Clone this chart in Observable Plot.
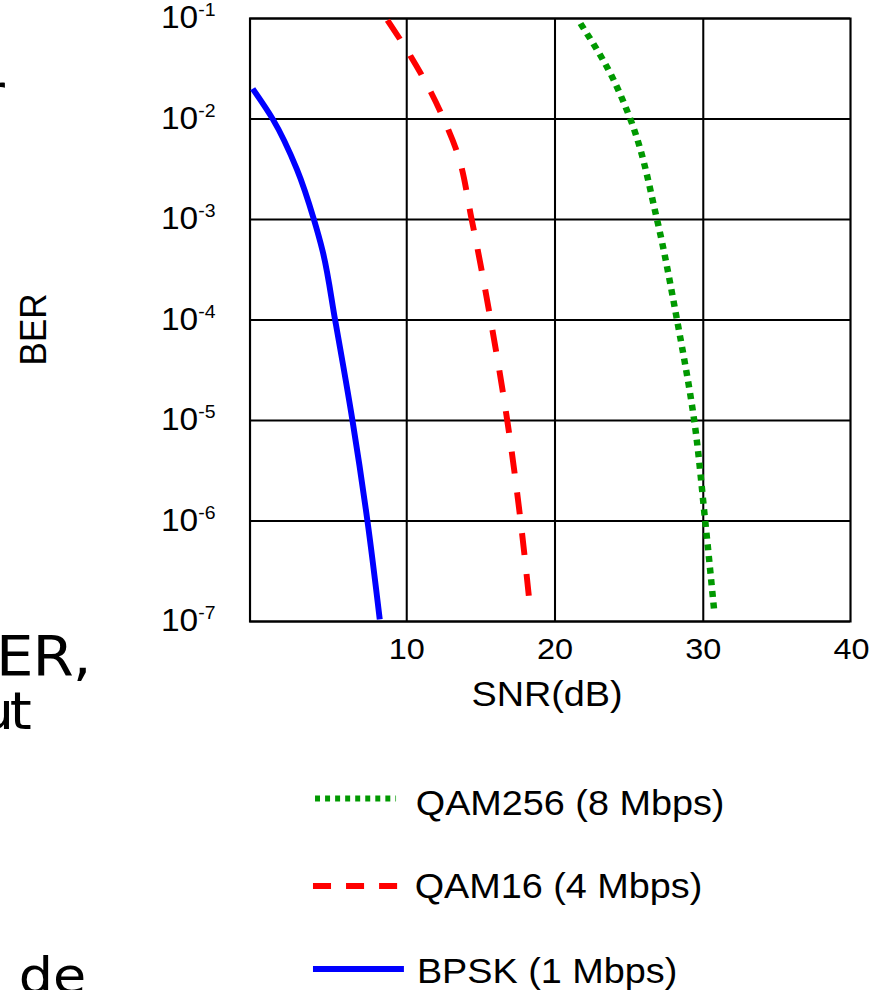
<!DOCTYPE html>
<html><head><meta charset="utf-8">
<script src="https://cdn.jsdelivr.net/npm/d3@7"></script>
<script src="https://cdn.jsdelivr.net/npm/@observablehq/plot@0.6"></script>
<style>
html,body{margin:0;padding:0;background:#fff;overflow:hidden;}
#wrap{position:relative;width:816px;height:990px;transform:scaleX(1.08);transform-origin:0 0;}
#wrap svg{display:block;}
#overlay{position:absolute;left:0;top:0;pointer-events:none;}
</style></head><body><div id="wrap"></div>
<script>
// ---- data ----
const xTicks = [10, 20, 30, 40];
const yTicks = [1e-1, 1e-2, 1e-3, 1e-4, 1e-5, 1e-6, 1e-7];

const bpskSNR = [-0.39, 0.96, 2.59, 3.74, 4.32, 5.17, 6.34, 7.35, 8.18];
const bpskBER = [0.020, 1e-2, 3.16e-3, 1e-3, 4.9e-4, 1e-4, 1e-5, 1e-6, 1.05e-7];

const qam16SNR = [8.70, 10.27, 11.62, 12.49, 13.37, 14.38, 15.66, 16.78, 17.68, 18.30];
const qam16BER = [0.096, 0.042, 0.0186, 1e-2, 4.8e-3, 1e-3, 1e-4, 1e-5, 1e-6, 1.45e-7];

const qam256SNR = [21.72, 23.6, 25.08, 26.88, 28.23, 29.39, 30.13, 30.74];
const qam256BER = [0.089, 0.031, 1e-2, 1e-3, 1e-4, 1e-5, 1e-6, 1.26e-7];

const legendLabels = ["QAM256 (8 Mbps)", "QAM16 (4 Mbps)", "BPSK (1 Mbps)"];
const xLabel = "SNR(dB)";
const yLabel = "BER";
const fragments = ["r", "ER,", "ut", "de"];

// ---- chart ----
const rows = (s, b) => s.map((v, i) => ({snr: v, ber: b[i]}));
const FONT = '"Liberation Sans", Arial, sans-serif';

const chart = Plot.plot({
  width: 816, height: 730,
  marginTop: 18, marginBottom: 109, marginLeft: 231, marginRight: 29,
  style: {fontFamily: FONT, background: "transparent", color: "#000"},
  x: {domain: [-0.57, 39.93]},
  y: {type: "log", domain: [1e-7, 1e-1]},
  marks: [
    Plot.ruleY(yTicks, {stroke: "#000", strokeWidth: 2}),
    Plot.ruleX(xTicks.filter(d => d < 40), {stroke: "#000", strokeWidth: 1.9}),
    Plot.frame({stroke: "#000", strokeWidth: 2}),
    Plot.axisY(yTicks, {tickSize: 0, tickPadding: 32, fontSize: 31, label: null,
      tickFormat: d => String(Math.round(Math.log10(d)))}),
    Plot.axisX(xTicks, {tickSize: 0, tickPadding: 16, fontSize: 30, label: null}),
    Plot.text([xLabel], {text: d => d, frameAnchor: "bottom", lineAnchor: "middle", textAnchor: "middle",
      dy: 73, dx: -3, fontSize: 35, fill: "#000"}),
    Plot.text([yLabel], {text: d => d, frameAnchor: "left", textAnchor: "middle", lineAnchor: "middle",
      rotate: -90, dx: -200, dy: 9.5, fontSize: 35, fill: "#000"}),
    Plot.line(rows(qam256SNR, qam256BER), {x: "snr", y: "ber", stroke: "#009900", strokeWidth: 6,
      strokeDasharray: "6,5.7", strokeLinecap: "butt", curve: "monotone-y"}),
    Plot.line(rows(qam16SNR, qam16BER), {x: "snr", y: "ber", stroke: "#ff0000", strokeWidth: 5.5,
      strokeDasharray: "22,19", strokeLinecap: "butt", curve: "monotone-y"}),
    Plot.line(rows(bpskSNR, bpskBER), {x: "snr", y: "ber", stroke: "#0000ff", strokeWidth: 5.5,
      strokeLinecap: "butt", curve: "monotone-y"})
  ]
});

// superscript exponents on y tick labels
chart.querySelectorAll('g[aria-label="y-axis tick label"] text').forEach(t => {
  const e = t.textContent;
  t.textContent = "";
  const NS = "http://www.w3.org/2000/svg";
  const a = document.createElementNS(NS, "tspan"); a.textContent = "10";
  const b = document.createElementNS(NS, "tspan"); b.textContent = e;
  b.setAttribute("font-size", "18"); b.setAttribute("dy", "-12");
  t.appendChild(a); t.appendChild(b);
});

const wrap = document.getElementById("wrap");
wrap.appendChild(chart);

// ---- legend (below the chart svg) ----
const legend = d3.create("svg").attr("width", 816).attr("height", 260)
  .style("font-family", FONT);
const legendSpec = [
  {label: legendLabels[0], color: "#009900", dash: "4.6,4.7", x1: 291.7, x2: 366.7, y: 68.5, tx: 385, ty: 85.5},
  {label: legendLabels[1], color: "#ff0000", dash: "16.7,13.9", x1: 289.8, x2: 369.4, y: 156, tx: 384, ty: 168.5},
  {label: legendLabels[2], color: "#0000ff", dash: null, x1: 289.8, x2: 374, y: 239, tx: 386, ty: 253}
];
for (const s of legendSpec) {
  const l = legend.append("line").attr("x1", s.x1).attr("x2", s.x2).attr("y1", s.y).attr("y2", s.y)
    .attr("stroke", s.color).attr("stroke-width", 6);
  if (s.dash) l.attr("stroke-dasharray", s.dash);
  legend.append("text").attr("x", s.tx).attr("y", s.ty).attr("font-size", 35).attr("fill", "#000").text(s.label);
}
wrap.appendChild(legend.node());

// ---- cropped slide text fragments at the left edge ----
const ov = d3.create("svg").attr("id", "overlay").attr("width", 816).attr("height", 990)
  .style("font-family", '"DejaVu Sans", sans-serif');
const fragSpec = [
  {x: -18, y: 113, size: 55, ls: 0},
  {x: -3.6, y: 675, size: 55, ls: -1},
  {x: -20, y: 729, size: 52, ls: -4},
  {x: 17.4, y: 993, size: 50, ls: 0}
];
fragments.forEach((f, i) => {
  ov.append("text").attr("x", fragSpec[i].x).attr("y", fragSpec[i].y)
    .attr("font-size", fragSpec[i].size).attr("letter-spacing", fragSpec[i].ls)
    .attr("fill", "#000").text(f);
});
wrap.appendChild(ov.node());
</script>
</body></html>
